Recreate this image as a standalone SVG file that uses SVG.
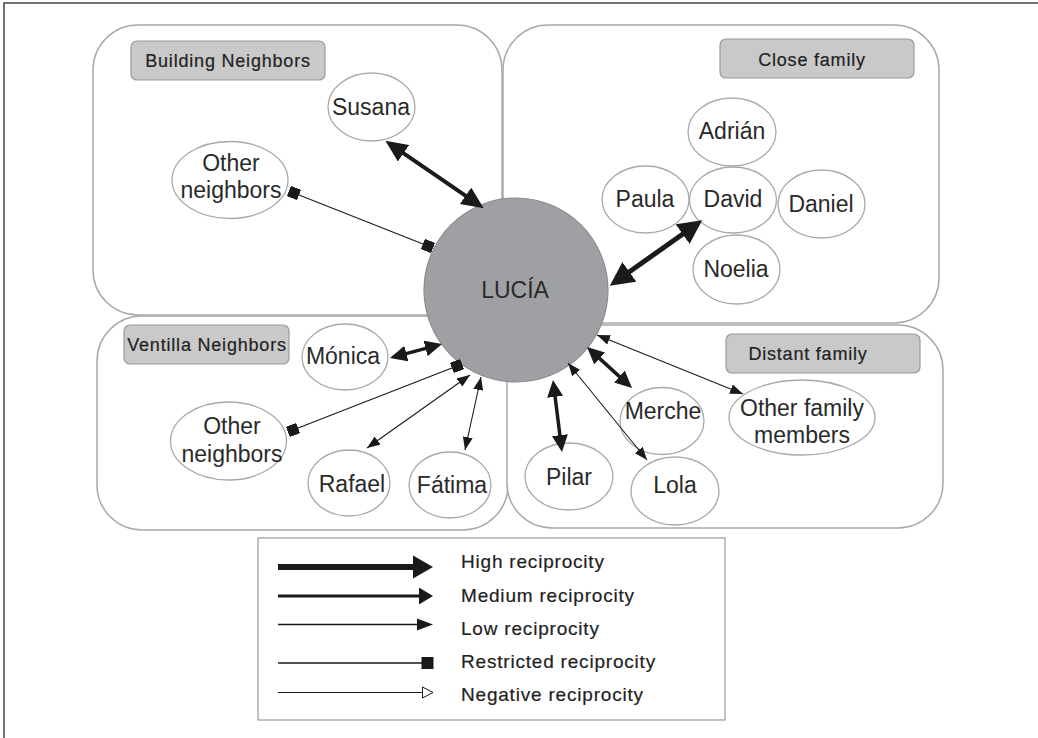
<svg xmlns="http://www.w3.org/2000/svg" width="1038" height="738" viewBox="0 0 1038 738">
<style>
.grp{fill:#fff;stroke:#a9a9ab;stroke-width:1.5}
.lbl{fill:#c9c9ca;stroke:#9a9a9c;stroke-width:1.2}
.lbt{font-family:"Liberation Sans",Arial,sans-serif;font-size:18px;fill:#222;stroke:#222;stroke-width:0.2;letter-spacing:0.8px;text-anchor:middle}
.nd{fill:#fff;stroke:#a9a9ab;stroke-width:1.3}
.nt{font-family:"Liberation Sans",Arial,sans-serif;font-size:23px;fill:#2a2a2a;text-anchor:middle}
.lt{font-family:"Liberation Sans",Arial,sans-serif;font-size:19px;fill:#222;stroke:#222;stroke-width:0.2;letter-spacing:0.8px}
.c{fill:none;stroke:#1a1a1a}
</style>
<defs>
<marker id="hi" markerUnits="userSpaceOnUse" orient="auto-start-reverse" markerWidth="22" markerHeight="20" refX="10" refY="10" viewBox="0 0 22 20"><path d="M0,0 L22,10 L0,20 z" fill="#1a1a1a"/></marker>
<marker id="hi2" markerUnits="userSpaceOnUse" orient="auto-start-reverse" markerWidth="24" markerHeight="24" refX="12" refY="12" viewBox="0 0 24 24"><path d="M0,0 L24,12 L0,24 z" fill="#1a1a1a"/></marker>
<marker id="md" markerUnits="userSpaceOnUse" orient="auto-start-reverse" markerWidth="17" markerHeight="16" refX="9" refY="8" viewBox="0 0 17 16"><path d="M0,0 L17,8 L0,16 z" fill="#1a1a1a"/></marker>
<marker id="lo" markerUnits="userSpaceOnUse" orient="auto-start-reverse" markerWidth="13" markerHeight="10" refX="13" refY="5" viewBox="0 0 13 10"><path d="M0,0 L13,5 L0,10 z" fill="#1a1a1a"/></marker>
<marker id="sq" markerUnits="userSpaceOnUse" orient="auto" markerWidth="11" markerHeight="11" refX="5.5" refY="5.5" viewBox="0 0 11 11"><rect x="0" y="0" width="11" height="11" fill="#1a1a1a"/></marker>
</defs>
<rect width="1038" height="738" fill="#fff"/>
<path d="M4,738 L4,3 L1038,3" fill="none" stroke="#444" stroke-width="1.5"/>

<g id="groups">
<g id="building-neighbors"><rect class="grp" x="93" y="25" width="409" height="290" rx="45"/><rect class="lbl" x="131" y="41" width="194" height="39" rx="6"/><text class="lbt" x="228" y="67">Building Neighbors</text></g>
<g id="close-family"><rect class="grp" x="503" y="25" width="436" height="298" rx="45"/><rect class="lbl" x="720" y="39" width="194" height="39" rx="6"/><text class="lbt" x="812" y="66">Close family</text></g>
<g id="ventilla-neighbors"><rect class="grp" x="97" y="316" width="411" height="214" rx="45"/><rect class="lbl" x="124" y="325" width="165" height="39" rx="6"/><text class="lbt" x="207" y="351">Ventilla Neighbors</text></g>
<g id="distant-family"><rect class="grp" x="507" y="325" width="436" height="203" rx="45"/><rect class="lbl" x="726" y="334" width="194" height="39" rx="6"/><text class="lbt" x="808" y="360">Distant family</text></g>
</g>

<g id="lucia"><circle cx="516" cy="290" r="92" fill="#9fa0a3" stroke="#8c8c8f" stroke-width="1.2"/><text class="nt" x="515" y="298" fill="#333">LUCÍA</text></g>

<g id="susana"><ellipse class="nd" cx="371.5" cy="107" rx="43.5" ry="34"/><text class="nt" x="371" y="115">Susana</text></g>
<g id="other-neighbors-building"><ellipse class="nd" cx="230" cy="180" rx="58" ry="38.5"/><text class="nt" x="231" y="171">Other</text><text class="nt" x="231" y="198">neighbors</text></g>
<g id="adrian"><ellipse class="nd" cx="732" cy="132" rx="44" ry="34"/><text class="nt" x="732" y="139">Adrián</text></g>
<g id="paula"><ellipse class="nd" cx="645.5" cy="199.5" rx="43.5" ry="33.5"/><text class="nt" x="645" y="207">Paula</text></g>
<g id="david"><ellipse class="nd" cx="733" cy="200" rx="43.5" ry="33"/><text class="nt" x="733" y="207">David</text></g>
<g id="daniel"><ellipse class="nd" cx="821.5" cy="204" rx="43.5" ry="34"/><text class="nt" x="821" y="212">Daniel</text></g>
<g id="noelia"><ellipse class="nd" cx="736.5" cy="269.5" rx="43.5" ry="34.5"/><text class="nt" x="736" y="277">Noelia</text></g>
<g id="monica"><ellipse class="nd" cx="345" cy="357" rx="43" ry="33"/><text class="nt" x="343" y="364">Mónica</text></g>
<g id="other-neighbors-ventilla"><ellipse class="nd" cx="228.5" cy="441" rx="58" ry="39"/><text class="nt" x="232" y="434">Other</text><text class="nt" x="232" y="462">neighbors</text></g>
<g id="rafael"><ellipse class="nd" cx="349" cy="483" rx="41" ry="33"/><text class="nt" x="352" y="492">Rafael</text></g>
<g id="fatima"><ellipse class="nd" cx="450" cy="485" rx="41" ry="33"/><text class="nt" x="452" y="493">Fátima</text></g>
<g id="merche"><ellipse class="nd" cx="662" cy="421" rx="42" ry="33.5"/><text class="nt" x="663" y="419">Merche</text></g>
<g id="other-family-members"><ellipse class="nd" cx="802" cy="417.5" rx="73" ry="37.5"/><text class="nt" x="802" y="416">Other family</text><text class="nt" x="802" y="443">members</text></g>
<g id="pilar"><ellipse class="nd" cx="569" cy="476.5" rx="44" ry="33.5"/><text class="nt" x="569" y="485">Pilar</text></g>
<g id="lola"><ellipse class="nd" cx="675" cy="491" rx="44" ry="34"/><text class="nt" x="675" y="493">Lola</text></g>

<g id="connectors">
<line class="c" x1="395.3" y1="147.6" x2="473.8" y2="201.4" stroke-width="4" marker-start="url(#hi)" marker-end="url(#hi)"/>
<line class="c" x1="619.6" y1="278.8" x2="692.4" y2="227.2" stroke-width="5" marker-start="url(#hi2)" marker-end="url(#hi2)"/>
<line class="c" x1="294" y1="193" x2="428" y2="246" stroke-width="1.1" marker-start="url(#sq)" marker-end="url(#sq)"/>
<line class="c" x1="397.7" y1="355.9" x2="434.3" y2="346.1" stroke-width="3.5" marker-start="url(#md)" marker-end="url(#md)"/>
<line class="c" x1="293" y1="430" x2="457" y2="366" stroke-width="1.1" marker-start="url(#sq)" marker-end="url(#sq)"/>
<line class="c" x1="367" y1="448" x2="470" y2="375" stroke-width="1.1" marker-start="url(#lo)" marker-end="url(#lo)"/>
<line class="c" x1="465" y1="450" x2="481" y2="377" stroke-width="1.1" marker-start="url(#lo)" marker-end="url(#lo)"/>
<line class="c" x1="554" y1="387.9" x2="561" y2="444.1" stroke-width="3.5" marker-start="url(#md)" marker-end="url(#md)"/>
<line class="c" x1="592.9" y1="352.4" x2="626.1" y2="382.6" stroke-width="3.5" marker-start="url(#md)" marker-end="url(#md)"/>
<line class="c" x1="568" y1="363" x2="647" y2="460" stroke-width="1.1" marker-start="url(#lo)" marker-end="url(#lo)"/>
<line class="c" x1="597" y1="335" x2="743" y2="394" stroke-width="1.1" marker-start="url(#lo)" marker-end="url(#lo)"/>
</g>

<g id="legend">
<rect x="258" y="538" width="467" height="182" fill="#fff" stroke="#9a9a9c" stroke-width="1.2"/>
<line x1="278" y1="567" x2="414" y2="567" stroke="#1a1a1a" stroke-width="6"/>
<polygon points="413,555.5 433,567 413,578.5" fill="#1a1a1a"/>
<line x1="278" y1="596" x2="420" y2="596" stroke="#1a1a1a" stroke-width="3"/>
<polygon points="419,587.5 433,596 419,604.5" fill="#1a1a1a"/>
<line x1="278" y1="624.5" x2="418" y2="624.5" stroke="#1a1a1a" stroke-width="1.3"/>
<polygon points="417,618.5 433,624.5 417,630.5" fill="#1a1a1a"/>
<line x1="278" y1="663" x2="422" y2="663" stroke="#1a1a1a" stroke-width="1.3"/>
<rect x="421.5" y="657" width="12" height="12" fill="#1a1a1a"/>
<line x1="278" y1="692.5" x2="422" y2="692.5" stroke="#1a1a1a" stroke-width="1.2"/>
<polygon points="422.5,687 433,692.5 422.5,698" fill="#fff" stroke="#1a1a1a" stroke-width="1"/>
<text class="lt" x="461" y="568">High reciprocity</text>
<text class="lt" x="461" y="602">Medium reciprocity</text>
<text class="lt" x="461" y="635">Low reciprocity</text>
<text class="lt" x="461" y="668">Restricted reciprocity</text>
<text class="lt" x="461" y="701">Negative reciprocity</text>
</g>
</svg>
